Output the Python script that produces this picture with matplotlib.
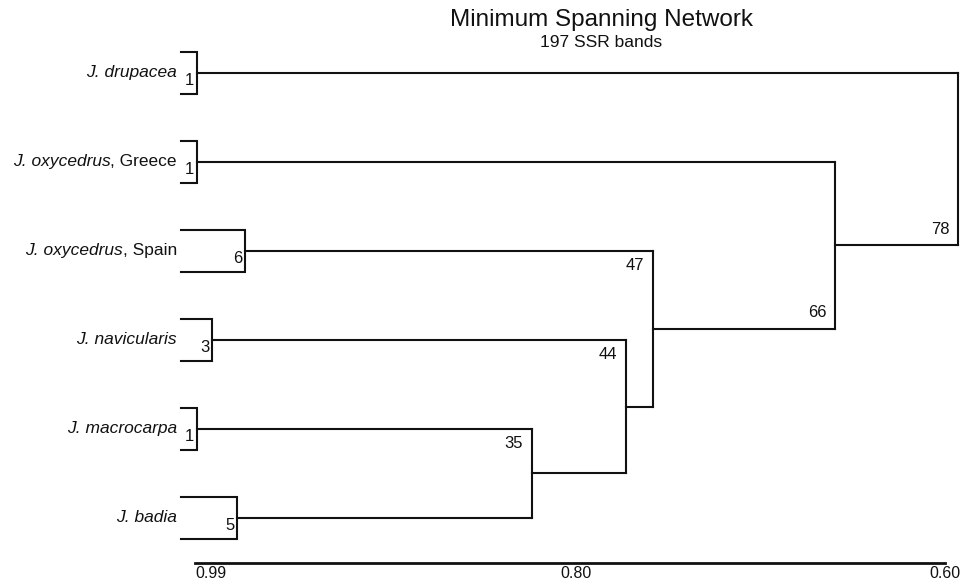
import numpy as np
import matplotlib
matplotlib.use("Agg")
import matplotlib.pyplot as plt

plt.rcParams['font.family'] = ['Liberation Sans', 'DejaVu Sans']

# leaves: (italic part, plain part), sample count, within-group similarity
taxa_italic = ['J. drupacea', 'J. oxycedrus', 'J. oxycedrus', 'J. navicularis', 'J. macrocarpa', 'J. badia']
taxa_plain = ['', ', Greece', ', Spain', '', '', '']
n_samples = [1, 1, 6, 3, 1, 5]
within_sim = [0.989, 0.989, 0.964, 0.981, 0.989, 0.968]

# merges: child a, child b, similarity, bootstrap value (new node = 6, 7, ...)
merge_a = [4, 3, 2, 1, 0]
merge_b = [5, 6, 7, 8, 9]
merge_sim = [0.815, 0.766, 0.752, 0.657, 0.593]
merge_boot = [35, 44, 47, 66, 78]
label_side = ['below', 'below', 'below', 'above', 'above']

ticks = [0.99, 0.80, 0.60]
tick_text = ['0.99', '0.80', '0.60']

fig = plt.figure(figsize=(9.7, 5.85), dpi=100)
ax = fig.add_axes([0, 0, 1, 1])
ax.set_xlim(1.0914, 0.587)
ax.set_ylim(5.753, -0.820)

lw = 1.5
ink = '#111111'
bracket_left = 0.9973
half_h = 0.235

# node positions
xs = list(within_sim)
ys = list(np.arange(len(taxa_italic), dtype=float))

# leaf brackets, counts and names
for i in range(len(taxa_italic)):
    y = ys[i]
    ax.plot([bracket_left, xs[i], xs[i], bracket_left], [y - half_h, y - half_h, y + half_h, y + half_h],
            color=ink, lw=lw, solid_joinstyle='miter')
    ax.annotate(str(n_samples[i]), xy=(xs[i], y), xytext=(-3, -8), textcoords='offset pixels',
                ha='right', va='center', fontsize=12, color=ink)
    t = ax.annotate(taxa_plain[i], xy=(bracket_left, y), xytext=(-4, 0), textcoords='offset pixels',
                    ha='right', va='center', fontsize=12.5, color=ink)
    ax.annotate(taxa_italic[i], xy=(0, 0.5), xycoords=t, ha='right', va='center',
                fontsize=12.5, style='italic', color=ink)

# tree
for k in range(len(merge_sim)):
    a, b = merge_a[k], merge_b[k]
    s = merge_sim[k]
    ya, yb = ys[a], ys[b]
    ax.plot([xs[a], s], [ya, ya], color=ink, lw=lw)
    ax.plot([xs[b], s], [yb, yb], color=ink, lw=lw)
    ax.plot([s, s], [ya, yb], color=ink, lw=lw)
    if label_side[k] == 'below':
        ax.annotate(str(merge_boot[k]), xy=(s, min(ya, yb)), xytext=(-9, -15), textcoords='offset pixels',
                    ha='right', va='center', fontsize=12, color=ink)
    else:
        ax.annotate(str(merge_boot[k]), xy=(s, max(ya, yb)), xytext=(-9, 16), textcoords='offset pixels',
                    ha='right', va='center', fontsize=12, color=ink)
    xs.append(s)
    ys.append((ya + yb) / 2)

# axis
for side in ['top', 'left', 'right']:
    ax.spines[side].set_visible(False)
ax.spines['bottom'].set_position(('data', 5.506))
ax.spines['bottom'].set_bounds(0.99, 0.60)
ax.spines['bottom'].set_linewidth(2)
ax.spines['bottom'].set_color(ink)
ax.set_yticks([])
ax.set_xticks(ticks)
ax.set_xticklabels(tick_text, fontsize=11.5, color=ink)
ax.tick_params(axis='x', length=0, pad=2)
labs = ax.get_xticklabels()
labs[0].set_ha('left')
labs[1].set_ha('left')
labs[2].set_ha('center')
ax.patch.set_visible(False)

fig.text(0.62, 0.966, 'Minimum Spanning Network', ha='center', va='center', fontsize=17.5, color=ink)
fig.text(0.62, 0.928, '197 SSR bands', ha='center', va='center', fontsize=12.5, color=ink)

fig.savefig('out.png', dpi=100, facecolor='white')
